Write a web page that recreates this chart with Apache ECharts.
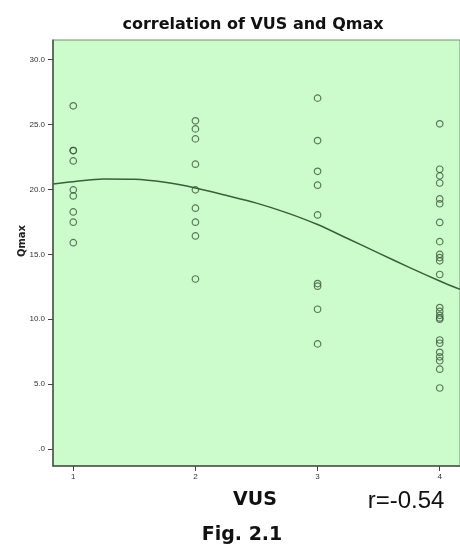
<!DOCTYPE html>
<html>
<head>
<meta charset="utf-8">
<script src="https://cdn.jsdelivr.net/npm/echarts@6/dist/echarts.min.js"></script>
<style>
html,body{margin:0;padding:0;background:#fff;}
#chart{width:460px;height:559px;}
</style>
</head>
<body>
<div id="chart"></div>
<script>
// VUS categories (x positions)
const vusLevels = [1, 2, 3, 4];
// Qmax values read per VUS level
const qmaxVus1 = [26.45, 23.0, 23.0, 22.2, 19.97, 19.5, 18.27, 17.48, 15.9];
const qmaxVus2 = [25.29, 24.67, 23.9, 21.95, 19.97, 18.56, 17.48, 16.42, 13.1];
const qmaxVus3 = [27.04, 23.77, 21.4, 20.33, 18.04, 12.75, 12.55, 10.77, 8.1];
const qmaxVus4 = [25.06, 21.56, 21.05, 20.5, 19.27, 18.9, 17.46, 15.98, 15.0, 14.75, 14.5, 13.45,
                  10.9, 10.6, 10.3, 10.1, 10.0, 8.4, 8.15, 7.45, 7.1, 6.8, 6.15, 4.7];
// Fit curve samples
const fitX = [0.834, 1.0, 1.25, 1.5, 1.75, 2.0, 2.25, 2.5, 2.75, 3.0, 3.25, 3.5, 3.75, 4.0, 4.166];
const fitY = [20.43, 20.6, 20.8, 20.78, 20.55, 20.12, 19.55, 18.95, 18.2, 17.3, 16.2, 15.1, 14.0, 12.95, 12.3];
// Tick values
const yTicks = [0, 5, 10, 15, 20, 25, 30];
const xTicks = [1, 2, 3, 4];

const groups = [qmaxVus1, qmaxVus2, qmaxVus3, qmaxVus4];
const scatterData = [];
groups.forEach((g, i) => g.forEach(v => scatterData.push([vusLevels[i], v])));
const fitData = fitX.map((x, i) => [x, fitY[i]]);

const chart = echarts.init(document.getElementById('chart'), null, {renderer: 'canvas'});
chart.setOption({
  animation: false,
  backgroundColor: '#ffffff',
  title: {
    text: 'correlation of VUS and Qmax',
    left: 248, top: 12, textAlign: 'center',
    textStyle: {fontFamily: 'DejaVu Sans', fontWeight: 'bold', fontSize: 16, color: '#111'}
  },
  grid: {
    left: 53, top: 40, right: 0, bottom: 93,
    show: true, backgroundColor: '#ccfccc', borderColor: '#7a8a7a', borderWidth: 1
  },
  xAxis: {
    type: 'value', min: 0.834, max: 4.166,
    splitLine: {show: false},
    axisLine: {show: true, onZero: false, lineStyle: {color: '#4a524a', width: 1.5}},
    axisTick: {show: true, customValues: xTicks, length: 5, lineStyle: {color: '#444'}},
    axisLabel: {customValues: xTicks, margin: 7, fontSize: 8, color: '#333', fontFamily: 'Liberation Sans'}
  },
  yAxis: {
    type: 'value', min: -1.31, max: 31.52,
    splitLine: {show: false},
    axisLine: {show: true, onZero: false, lineStyle: {color: '#4a524a', width: 1.5}},
    axisTick: {show: true, customValues: yTicks, length: 5, lineStyle: {color: '#444'}},
    axisLabel: {
      customValues: yTicks, margin: 8, fontSize: 8, color: '#333', fontFamily: 'Liberation Sans',
      formatter: v => v === 0 ? '.0' : v.toFixed(1)
    }
  },
  series: [
    {
      type: 'scatter', data: scatterData, symbol: 'circle', symbolSize: 6.5,
      itemStyle: {color: 'rgba(0,0,0,0)', borderColor: '#3d573d', borderWidth: 1.2},
      z: 3
    },
    {
      type: 'line', data: fitData, smooth: 0.3, showSymbol: false, symbol: 'none',
      lineStyle: {color: '#3a5f3a', width: 1.5}, z: 2, clip: true
    }
  ],
  graphic: [
    {type: 'text', x: 22, y: 241, rotation: Math.PI / 2,
     style: {text: 'Qmax', fontFamily: 'DejaVu Sans', fontWeight: 'bold', fontSize: 10, fill: '#222',
             textAlign: 'center', textVerticalAlign: 'middle'}},
    {type: 'text', x: 255, y: 500,
     style: {text: 'VUS', fontFamily: 'DejaVu Sans', fontWeight: 'bold', fontSize: 19, fill: '#111',
             textAlign: 'center', textVerticalAlign: 'middle'}},
    {type: 'text', x: 406, y: 501,
     style: {text: 'r=-0.54', fontFamily: 'Liberation Sans', fontSize: 24, fill: '#111',
             textAlign: 'center', textVerticalAlign: 'middle'}},
    {type: 'text', x: 242, y: 535,
     style: {text: 'Fig. 2.1', fontFamily: 'DejaVu Sans', fontWeight: 'bold', fontSize: 19, fill: '#111',
             textAlign: 'center', textVerticalAlign: 'middle'}}
  ]
});
</script>
</body>
</html>
